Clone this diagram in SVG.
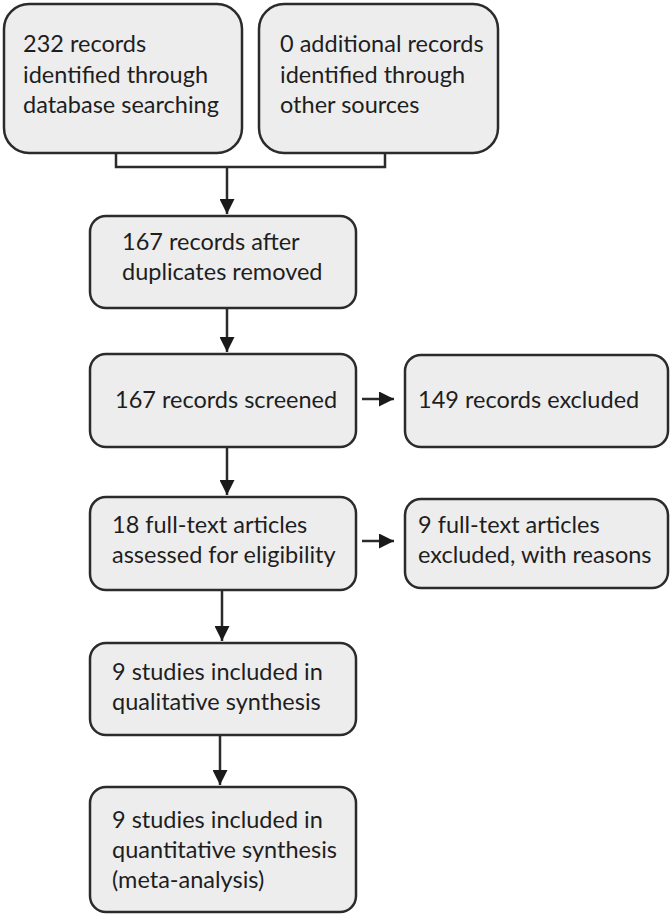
<svg xmlns="http://www.w3.org/2000/svg" width="671" height="916" viewBox="0 0 671 916">
<defs>
<style>
.box{fill:#ededed;stroke:#2b2b2b;stroke-width:2.5}
.t{font-family:Lato,"Liberation Sans",sans-serif;font-size:23.5px;fill:#1e1e1e}
.c{fill:none;stroke:#2b2b2b;stroke-width:2.5}
</style>
<marker id="ah" viewBox="0 0 10 10" refX="10" refY="5" markerWidth="6" markerHeight="6" orient="auto" markerUnits="strokeWidth">
<path d="M0,0 L10,5 L0,10 z" fill="#1a1a1a"/>
</marker>
</defs>
<rect width="671" height="916" fill="#fff"/>
<g id="n1"><rect class="box" x="4" y="4" width="238" height="149" rx="25"/>
<text class="t" x="23" y="52">232 records</text><text class="t" x="23" y="83">identified through</text><text class="t" x="23" y="113">database searching</text></g>
<g id="n2"><rect class="box" x="259" y="4" width="239" height="149" rx="25"/>
<text class="t" x="280" y="52">0 additional records</text><text class="t" x="280" y="83">identified through</text><text class="t" x="280" y="113">other sources</text></g>
<g id="n3"><rect class="box" x="90" y="216" width="266" height="92" rx="16"/>
<text class="t" x="122" y="250">167 records after</text><text class="t" x="122" y="280">duplicates removed</text></g>
<g id="n4"><rect class="box" x="90" y="354" width="266" height="93" rx="16"/>
<text class="t" x="115" y="408">167 records screened</text></g>
<g id="n5"><rect class="box" x="405" y="355" width="263" height="92" rx="16"/>
<text class="t" x="418" y="408">149 records excluded</text></g>
<g id="n6"><rect class="box" x="90" y="497" width="266" height="93" rx="16"/>
<text class="t" x="112" y="533">18 full-text articles</text><text class="t" x="112" y="563">assessed for eligibility</text></g>
<g id="n7"><rect class="box" x="405" y="499" width="263" height="89" rx="16"/>
<text class="t" x="418" y="533">9 full-text articles</text><text class="t" x="418" y="563">excluded, with reasons</text></g>
<g id="n8"><rect class="box" x="90" y="643" width="266" height="92" rx="16"/>
<text class="t" x="112" y="680">9 studies included in</text><text class="t" x="112" y="710">qualitative synthesis</text></g>
<g id="n9"><rect class="box" x="90" y="787" width="266" height="125" rx="16"/>
<text class="t" x="112" y="828">9 studies included in</text><text class="t" x="112" y="858">quantitative synthesis</text><text class="t" x="112" y="888">(meta-analysis)</text></g>
<g id="connectors">
<path class="c" d="M116,153 V167 H385 V153"/>
<path class="c" d="M227,167 V214" marker-end="url(#ah)"/>
<path class="c" d="M227,308 V352" marker-end="url(#ah)"/>
<path class="c" d="M362,399 H394" marker-end="url(#ah)"/>
<path class="c" d="M227,447 V495" marker-end="url(#ah)"/>
<path class="c" d="M362,541 H394" marker-end="url(#ah)"/>
<path class="c" d="M222,590 V641" marker-end="url(#ah)"/>
<path class="c" d="M220,735 V785" marker-end="url(#ah)"/>
</g>
</svg>
